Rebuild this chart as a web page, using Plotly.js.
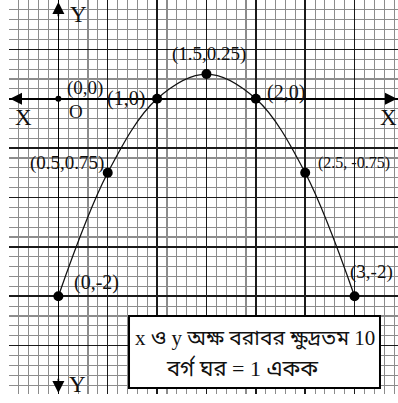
<!DOCTYPE html>
<html>
<head>
<meta charset="utf-8">
<script src="https://cdn.plot.ly/plotly-3.0.1.min.js"></script>
<style>html,body{margin:0;padding:0;background:#fff}#chart{width:398px;height:403px}</style>
</head>
<body>
<div id="chart"></div>
<script>
// Data
var xValues = [0, 0.5, 1, 1.5, 2, 2.5, 3];
var yValues = [-2, -0.75, 0, 0.25, 0, -0.75, -2];
var pointLabels = ["(0,-2)", "(0.5,0.75)", "(1,0)", "(1.5,0.25)", "(2,0)", "(2.5, -0.75)", "(3,-2)"];
var originLabel = "(0,0)";
var noteLines = ["x ও y অক্ষ বরাবর ক্ষুদ্রতম 10", "বর্গ ঘর = 1 একক"];

var serif = "Liberation Serif, Times New Roman, serif";

var curve = {
  x: xValues, y: yValues, type: "scatter", mode: "lines",
  line: {color: "#111", width: 1.3, shape: "spline", smoothing: 1},
  hoverinfo: "skip"
};
var pts = {
  x: xValues, y: yValues, type: "scatter", mode: "markers",
  marker: {color: "#000", size: 10}, hoverinfo: "skip"
};
var origin = {
  x: [0], y: [0], type: "scatter", mode: "markers",
  marker: {color: "#000", size: 6}, hoverinfo: "skip"
};

// label placement: [x, y, xanchor, size]
var labelPos = [
  [0.138, -1.862, "left", 20],
  [0.482, -0.646, "right", 19],
  [0.898, 0.0, "right", 20],
  [1.526, 0.458, "center", 19],
  [2.093, 0.063, "left", 20],
  [2.61, -0.646, "left", 16],
  [2.935, -1.75, "left", 19]
];

var annotations = [];
for (var i = 0; i < pointLabels.length; i++) {
  var p = labelPos[i];
  annotations.push({x: p[0], y: p[1], xref: "x", yref: "y", text: pointLabels[i],
    showarrow: false, xanchor: p[2], yanchor: "middle",
    font: {family: serif, size: p[3], color: "#111"}});
}
annotations.push({x: 0.067, y: 0.113, xref: "x", yref: "y", text: originLabel, showarrow: false,
  xanchor: "left", yanchor: "middle", font: {family: serif, size: 19, color: "#111"}});
annotations.push({x: 0.087, y: -0.13, xref: "x", yref: "y", text: "O", showarrow: false,
  xanchor: "left", yanchor: "middle", font: {family: serif, size: 19, color: "#111"}});
annotations.push({x: -0.46, y: -0.19, xref: "x", yref: "y", text: "X", showarrow: false,
  xanchor: "left", yanchor: "middle", font: {family: serif, size: 23, color: "#111"}});
annotations.push({x: 3.235, y: -0.19, xref: "x", yref: "y", text: "X", showarrow: false,
  xanchor: "left", yanchor: "middle", font: {family: serif, size: 23, color: "#111"}});
annotations.push({x: 0.097, y: 0.853, xref: "x", yref: "y", text: "Y", showarrow: false,
  xanchor: "left", yanchor: "middle", font: {family: serif, size: 23, color: "#111"}});
annotations.push({x: 0.087, y: -2.896, xref: "x", yref: "y", text: "Y", showarrow: false,
  xanchor: "left", yanchor: "middle", font: {family: serif, size: 23, color: "#111"}});

// axis arrowheads
var arrows = [[-0.49, 0, -0.33, 0], [3.43, 0, 3.27, 0], [0, 0.98, 0, 0.82], [0, -2.98, 0, -2.82]];
arrows.forEach(function (a) {
  annotations.push({x: a[0], y: a[1], ax: a[2], ay: a[3], xref: "x", yref: "y", axref: "x", ayref: "y",
    text: "", showarrow: true, arrowhead: 2, arrowsize: 1.5, arrowwidth: 1.6, arrowcolor: "#000", standoff: 0});
});

// note box text
annotations.push({x: 0.633, y: 0.143, xref: "paper", yref: "paper", text: noteLines[0], showarrow: false,
  xanchor: "center", yanchor: "middle", font: {family: serif + ", Noto Sans Bengali", size: 21, color: "#111"}});
annotations.push({x: 0.6, y: 0.066, xref: "paper", yref: "paper", text: noteLines[1], showarrow: false,
  xanchor: "center", yanchor: "middle", font: {family: serif + ", Noto Sans Bengali", size: 22, color: "#111"}});

var axisCommon = {
  showticklabels: false, ticks: "", showline: false,
  dtick: 0.5, tick0: 0, gridcolor: "#1a1a1a", gridwidth: 1.5,
  zeroline: true, zerolinecolor: "#000", zerolinewidth: 1.7,
  minor: {dtick: 0.1, tick0: 0, showgrid: true, gridcolor: "#8c8c8c", gridwidth: 1.1},
  fixedrange: true
};

var layout = {
  width: 398, height: 403,
  margin: {l: 9, r: 0, t: 0, b: 9, pad: 0},
  paper_bgcolor: "#fff", plot_bgcolor: "#fff",
  showlegend: false,
  xaxis: Object.assign({}, axisCommon, {range: [-0.5, 3.44]}),
  yaxis: Object.assign({}, axisCommon, {range: [-2.99, 1.0]}),
  shapes: [{type: "rect", xref: "paper", yref: "paper", x0: 0.3085, x1: 0.9537, y0: 0.0152, y1: 0.198,
    fillcolor: "#fff", line: {color: "#000", width: 2}, layer: "above"}],
  annotations: annotations
};

Plotly.newPlot("chart", [curve, pts, origin], layout, {displayModeBar: false, staticPlot: true});
</script>
</body>
</html>
